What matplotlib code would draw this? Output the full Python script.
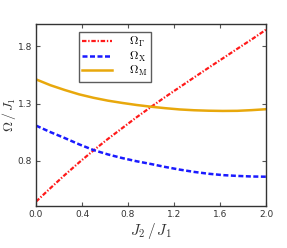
import matplotlib
matplotlib.use("Agg")
import matplotlib.pyplot as plt

plt.rcParams['mathtext.fontset'] = 'cm'
plt.rcParams['font.family'] = ['DejaVu Sans']

J = [0.0, 0.125, 0.25, 0.375, 0.5, 0.625, 0.75, 0.875, 1.0, 1.125, 1.25, 1.375,
     1.5, 1.625, 1.75, 1.875, 2.0]
omega_gamma = [0.442, 0.56, 0.675, 0.785, 0.89, 0.99, 1.085, 1.18, 1.27, 1.358,
               1.443, 1.528, 1.612, 1.695, 1.778, 1.86, 1.945]
omega_x = [1.107, 1.05, 0.998, 0.943, 0.893, 0.855, 0.823, 0.795, 0.771, 0.745,
           0.722, 0.702, 0.686, 0.674, 0.667, 0.662, 0.660]
omega_m = [1.511, 1.46, 1.418, 1.38, 1.35, 1.325, 1.305, 1.287, 1.272, 1.259,
           1.248, 1.241, 1.237, 1.235, 1.236, 1.242, 1.25]

xticks = [0.0, 0.4, 0.8, 1.2, 1.6, 2.0]
yticks = [0.8, 1.3, 1.8]

fig = plt.figure(figsize=(2.87, 2.48), dpi=100)
ax = fig.add_axes([36/287, 1 - 206/248, 230/287, 182/248])

ax.plot(J, omega_gamma, color='#ff1a1a', linestyle=(0, (2.0, 0.8, 0.6, 0.8)), lw=1.6,
        label=r'$\Omega_\Gamma$')
ax.plot(J, omega_x, color='#1a1aff', linestyle=(0, (2.0, 1.0)), lw=1.8,
        label=r'$\Omega_\mathrm{X}$')
ax.plot(J, omega_m, color='#e8a80c', linestyle='-', lw=1.8, label=r'$\Omega_\mathrm{M}$')

ax.set_xlim(0, 2.0)
ax.set_ylim(0.404, 1.995)
ax.set_xticks(xticks)
ax.set_yticks(yticks)
ax.tick_params(direction='in', top=True, right=True, length=3, width=0.8,
               colors='#555555', labelsize=6.5, labelcolor='#333333', pad=3)
for s in ax.spines.values():
    s.set_color('#333333')
    s.set_linewidth(1.0)

ax.set_xlabel(r'$J_2\,/\,J_1$', fontsize=11, color='#333333', labelpad=1)
ax.set_ylabel(r'$\Omega\,/\,J_1$', fontsize=10, color='#333333')
ax.yaxis.set_label_coords(-0.078, 0.5)

leg = ax.legend(loc='upper left', bbox_to_anchor=(0.185, 0.958), fontsize=8.5,
                frameon=True, fancybox=False, handlelength=2.5, labelspacing=0.05,
                borderpad=0.3, handletextpad=1.5, borderaxespad=0)
leg.get_frame().set_edgecolor('#333333')
leg.get_frame().set_linewidth(1.0)

fig.savefig('out.png', dpi=100)
